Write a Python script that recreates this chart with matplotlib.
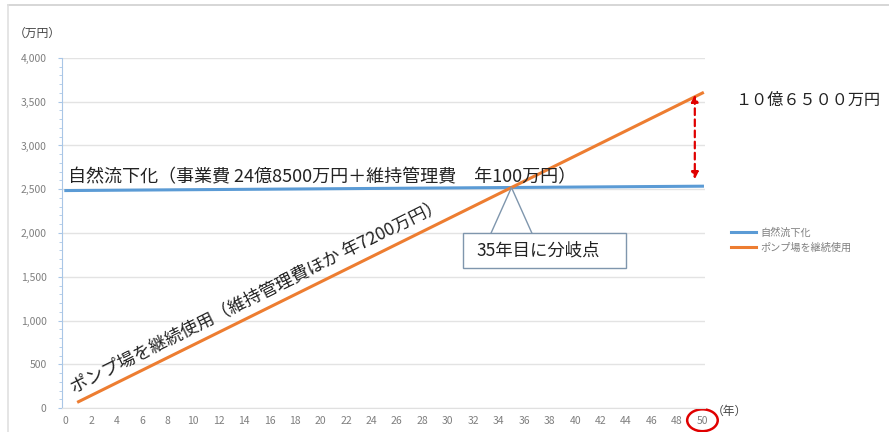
import matplotlib.pyplot as plt
from matplotlib.patches import Rectangle, Ellipse
from matplotlib.lines import Line2D
from matplotlib.ticker import MultipleLocator

plt.rcParams['font.family'] = ['Noto Sans CJK JP', 'DejaVu Sans']

# cost over time (unit as labelled on the chart)
years_gravity = [0, 10, 20, 30, 35, 40, 50]
cost_gravity = [2485, 2495, 2505, 2515, 2520, 2525, 2535]
years_pump = [1, 10, 20, 30, 35, 40, 50]
cost_pump = [72, 720, 1440, 2160, 2520, 2880, 3600]

series_names = ['自然流下化', 'ポンプ場を継続使用']
x_ticks = list(range(0, 51, 2))
y_ticks = list(range(0, 4001, 500))
cross_year = 35
cross_cost = 2520

blue = '#5b9bd5'
orange = '#ed7d31'
grey = '#7f7f7f'

fig = plt.figure(figsize=(8.89, 4.32), dpi=100)
ax = fig.add_axes([62 / 889, 1 - 408 / 432, (705 - 62) / 889, 350 / 432])

ax.plot(years_gravity, cost_gravity, color=blue, lw=2.2, label=series_names[0], zorder=3)
ax.plot(years_pump, cost_pump, color=orange, lw=2.2, label=series_names[1], zorder=3)

ax.set_xlim(-0.3, 50.2)
ax.set_ylim(0, 4000)
ax.set_xticks(x_ticks)
ax.set_yticks(y_ticks)
ax.set_yticklabels([f'{v:,}' for v in y_ticks])
ax.yaxis.set_minor_locator(MultipleLocator(100))
ax.grid(axis='y', color='#e3e3e3', lw=1)
ax.set_axisbelow(True)
for s in ['top', 'right']:
    ax.spines[s].set_visible(False)
ax.spines['left'].set_color('#a9c6e6')
ax.spines['bottom'].set_color('#e0e0e0')
ax.tick_params(axis='x', length=0, labelsize=7.5, labelcolor=grey, pad=6)
ax.tick_params(axis='y', which='major', length=3, color='#a9c6e6', labelsize=7.5, labelcolor=grey, pad=8)
ax.tick_params(axis='y', which='minor', length=2, color='#a9c6e6')

# line labels
ax.text(0.2, 2530, '自然流下化（事業費 24億8500万円＋維持管理費　年100万円）',
        fontsize=13, color='#222222', ha='left', va='bottom')
ax.text(0.8, 120, 'ポンプ場を継続使用（維持管理費ほか 年7200万円）',
        fontsize=12.7, color='#222222', ha='left', va='bottom',
        rotation=26.5, rotation_mode='anchor')

# callout box
bx0, bx1, by0, by1 = 31.2, 44.0, 1600, 2000
ax.add_patch(Rectangle((bx0, by0), bx1 - bx0, by1 - by0, fc='white', ec='#7f96ad', lw=1, zorder=4))
ax.plot([33.4, cross_year, 36.6], [by1, cross_cost, by1], color='#7f96ad', lw=1, zorder=4)
ax.text(37.1, (by0 + by1) / 2, '35年目に分岐点', fontsize=12.5, color='#222222',
        ha='center', va='center', zorder=5)

# difference arrow
ax.annotate('', xy=(49.4, cost_gravity[-1] + 80), xytext=(49.4, cost_pump[-1] - 20),
            arrowprops=dict(arrowstyle='<|-|>', color='#e00000', lw=1.6, ls=(0, (3, 2)),
                            mutation_scale=10, shrinkA=0, shrinkB=0), zorder=5)
fig.text(735 / 889, 1 - 100 / 432, '１０億６５００万円', fontsize=11.6, color='#222222', va='center')

# red circle around 50
ax.add_patch(Ellipse((50, -140), 2.4, 250, fc='none', ec='#e00000', lw=1.8, clip_on=False))

fig.text(14 / 889, 1 - 33 / 432, '（万円）', fontsize=8.5, color='#444444', va='center')
fig.text(712 / 889, 1 - 411 / 432, '（年）', fontsize=8.5, color='#444444', va='center')

ax.legend(loc='upper left', bbox_to_anchor=(722 / 889, 1 - 218 / 432), bbox_transform=fig.transFigure,
          frameon=False, fontsize=7.3, labelcolor=grey, handlelength=2.5, handletextpad=0.4,
          labelspacing=0.5)

# outer frame
fig.add_artist(Line2D([8 / 889, 1], [1 - 5 / 432, 1 - 5 / 432], color='#d0d0d0', lw=1.2))
fig.add_artist(Line2D([8 / 889, 8 / 889], [0, 1 - 5 / 432], color='#e0e0e0', lw=1.2))

fig.savefig('out.png', dpi=100)
